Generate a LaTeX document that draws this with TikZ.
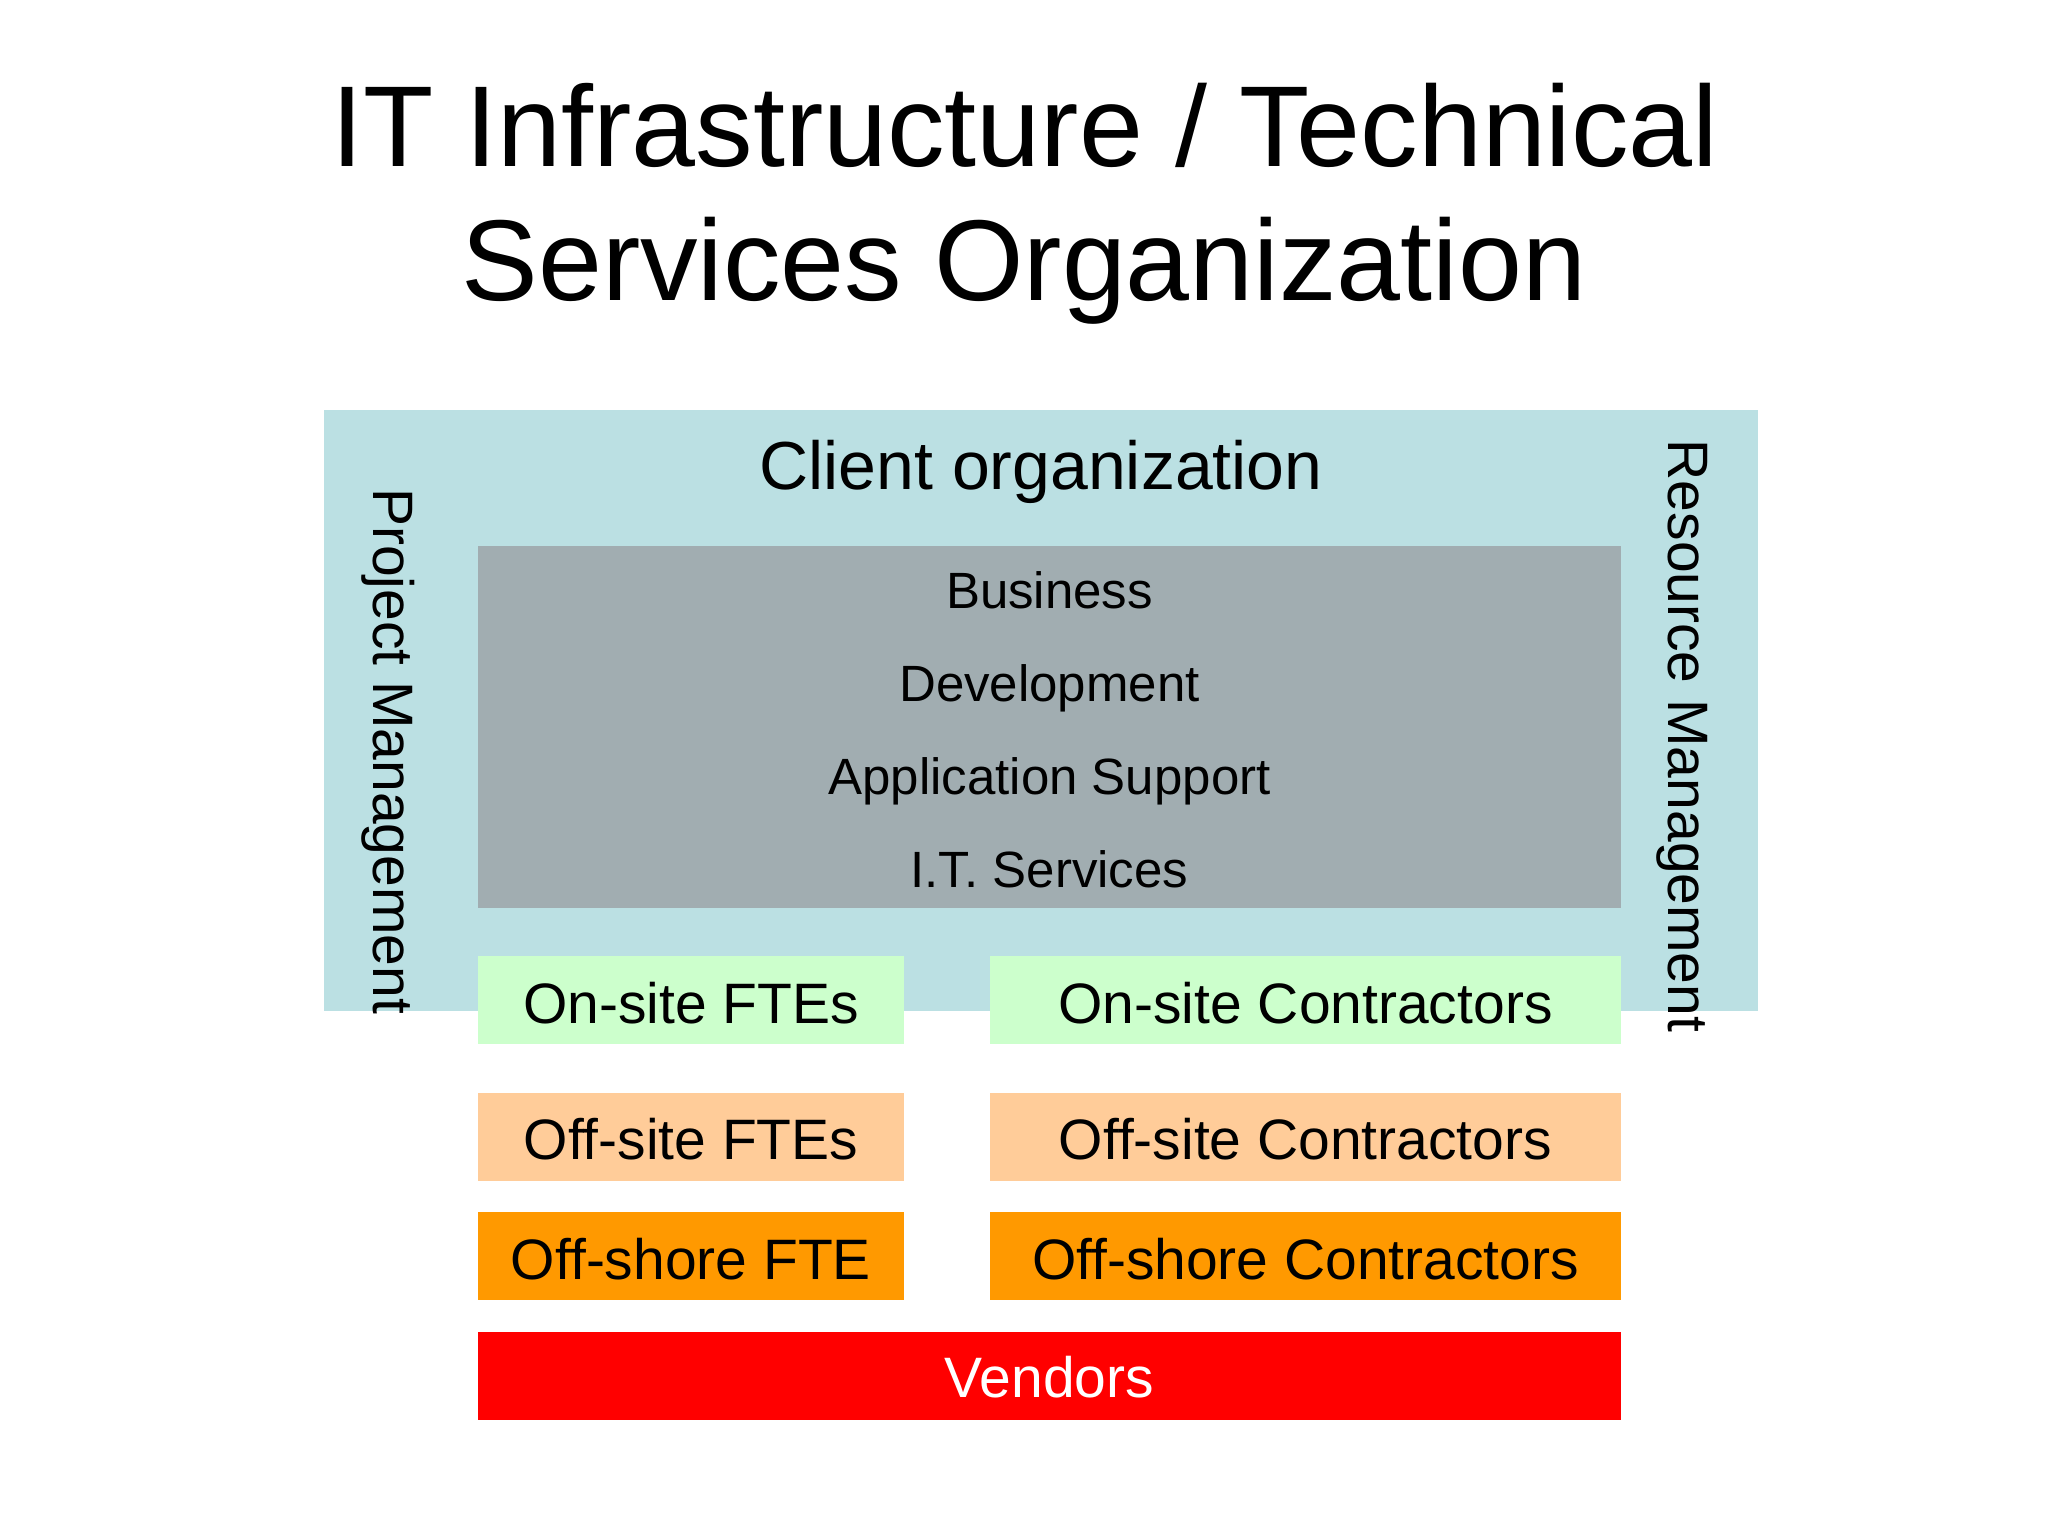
\documentclass[tikz,border=0pt]{standalone}
\usepackage{fontspec}
\setmainfont{Liberation Sans}
\definecolor{clientblue}{RGB}{187,224,227}
\definecolor{coregray}{RGB}{161,173,177}
\definecolor{onsitegreen}{RGB}{204,255,204}
\definecolor{offsitepeach}{RGB}{255,204,153}
\definecolor{offshoreorange}{RGB}{255,153,0}
\definecolor{vendorred}{RGB}{255,0,0}
\tikzset{
  panel/.style={rectangle, draw=none, inner sep=0pt, outer sep=0pt},
  cell/.style={panel, minimum height=88pt},
  lbl/.style={anchor=base, inner sep=0pt, font=\fontsize{57}{65}\selectfont},
  sublbl/.style={anchor=base, inner sep=0pt, font=\fontsize{51}{60}\selectfont},
  ttl/.style={anchor=base, inner sep=0pt, font=\fontsize{115}{135}\selectfont},
}
\begin{document}
\begin{tikzpicture}[x=1pt,y=-1pt]
\useasboundingbox (0,0) rectangle (2048,1536);
\fill[white] (0,0) rectangle (2048,1536);

% title
\node[ttl] (title1) at (1025,167) {IT Infrastructure / Technical};
\node[ttl] (title2) at (1024,300) {Services Organization};

% client organization panel
\node[panel, fill=clientblue, minimum width=1434pt, minimum height=601pt] (client) at (1041,710.5) {};
\node[anchor=base, inner sep=0pt, font=\fontsize{68}{80}\selectfont] (clientlbl) at (1041,489) {Client organization};

% core gray panel
\node[panel, fill=coregray, minimum width=1143pt, minimum height=362pt] (core) at (1049.5,727) {};
\node[sublbl] (business) at (1049.5,608) {Business};
\node[sublbl] (development) at (1049.5,701) {Development};
\node[sublbl] (appsupport) at (1049.5,794) {Application Support};
\node[sublbl] (itservices) at (1049.5,887) {I.T. Services};

% resource cells
\node[cell, fill=onsitegreen, minimum width=426pt] (onfte) at (691,1000) {};
\node[cell, fill=onsitegreen, minimum width=631pt] (oncon) at (1305.5,1000) {};
\node[cell, fill=offsitepeach, minimum width=426pt] (offfte) at (691,1136.5) {};
\node[cell, fill=offsitepeach, minimum width=631pt] (offcon) at (1305.5,1136.5) {};
\node[cell, fill=offshoreorange, minimum width=426pt] (shorefte) at (691,1256) {};
\node[cell, fill=offshoreorange, minimum width=631pt] (shorecon) at (1305.5,1256) {};
\node[cell, fill=vendorred, minimum width=1143pt] (vendors) at (1049.5,1375.5) {};

\node[lbl] (onftelbl) at ([yshift=-23pt]onfte.center) {On-site FTEs};
\node[lbl] (onconlbl) at ([yshift=-23pt]oncon.center) {On-site Contractors};
\node[lbl] (offftelbl) at ([yshift=-23pt]offfte.center) {Off-site FTEs};
\node[lbl] (offconlbl) at ([yshift=-23pt]offcon.center) {Off-site Contractors};
\node[lbl] (shoreftelbl) at ([yshift=-23pt]shorefte.center) {Off-shore FTE};
\node[lbl] (shoreconlbl) at ([yshift=-23pt]shorecon.center) {Off-shore Contractors};
\node[lbl, text=white] (vendorslbl) at ([yshift=-22pt]vendors.center) {Vendors};

% side labels
\node[lbl, rotate=-90] (projmgmt) at (373,751) {Project Management};
\node[lbl, rotate=-90] (resmgmt) at (1668,736) {Resource Management};
\end{tikzpicture}
\end{document}
